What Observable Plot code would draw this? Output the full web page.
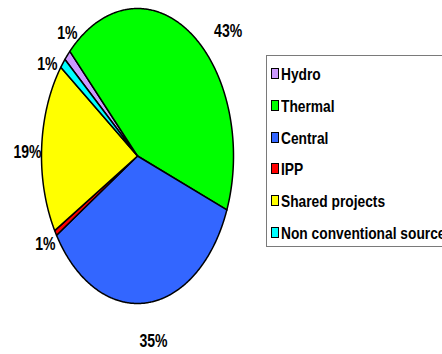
<!DOCTYPE html>
<html>
<head>
<meta charset="utf-8">
<script src="https://cdn.jsdelivr.net/npm/d3@7"></script>
<script src="https://cdn.jsdelivr.net/npm/@observablehq/plot@0.6"></script>
<style>
  html, body { margin: 0; padding: 0; background: #fff; width: 442px; height: 354px; overflow: hidden; }
  #wrap { position: relative; width: 442px; height: 354px; overflow: hidden; }
  #chart svg { display: block; }
  #legend { position: absolute; left: 266px; top: 55px; width: 220px; height: 192px;
            border: 1px solid #7a7a7a; box-sizing: border-box; background: #fff; }
  .item { position: absolute; left: 0; height: 20px; white-space: nowrap; }
  .sw { position: absolute; left: 4px; width: 6px; height: 9px; border: 1.5px solid #000; }
  .lab { position: absolute; left: 14px; font: bold 17px "Liberation Sans", Arial, sans-serif;
         color: #000; transform: scaleX(0.81); transform-origin: 0 50%; line-height: 20px; }
</style>
</head>
<body>
<div id="wrap"><div id="chart"></div><div id="legend"></div></div>
<script>
// ---- data ----
const categories = ["Hydro", "Thermal", "Central", "IPP", "Shared projects", "Non conventional sources"];
const shares = [1.2, 43.4, 35.0, 0.6, 18.7, 1.1];
const labels = shares.map(v => Math.round(v) + "%");

// ---- styles / layout ----
const colors = ["#CC99FF", "#00FF00", "#3366FF", "#FF0000", "#FFFF00", "#00FFFF"];
const startDeg = -49.1;
const labelRadius = [1.105, 1.27, 1.27, 1.13, 1.146, 1.125];
const labelShift = [5.6, 14.7, -2, -0.4, -2.1, -5.4];

const pie = d3.pie().sort(null).value(d => d.value)
  .startAngle(startDeg * Math.PI / 180).endAngle(startDeg * Math.PI / 180 + 2 * Math.PI);
const table = categories.map((c, i) => ({category: c, value: shares[i], label: labels[i]}));
const arcs = pie(table);

const poly = [];
arcs.forEach(a => {
  poly.push({category: a.data.category, x: 0, y: 0});
  const n = Math.max(2, Math.ceil((a.endAngle - a.startAngle) / (Math.PI / 360)));
  for (let k = 0; k <= n; k++) {
    const t = a.startAngle + (a.endAngle - a.startAngle) * k / n;
    poly.push({category: a.data.category, x: Math.sin(t), y: -Math.cos(t)});
  }
});
const labelPts = arcs.map((a, i) => {
  const m = (a.startAngle + a.endAngle) / 2 + labelShift[i] * Math.PI / 180;
  return {label: a.data.label, x: labelRadius[i] * Math.sin(m), y: -labelRadius[i] * Math.cos(m)};
});

const chart = Plot.plot({
  width: 442, height: 354,
  margin: 0,
  x: {domain: [-1, 1], range: [41, 233], axis: null},
  y: {domain: [-1, 1], range: [8, 303], axis: null},
  color: {domain: categories, range: colors},
  style: {background: "white"},
  marks: [
    Plot.line(poly, {x: "x", y: "y", z: "category", fill: "category", stroke: "#000",
                     strokeWidth: 1.5, curve: "linear-closed", strokeLinejoin: "round"}),
    Plot.text(labelPts, {x: "x", y: "y", text: "label", fill: "#000",
                         fontSize: 18, fontWeight: "bold", fontFamily: "Liberation Sans, Arial, sans-serif"})
  ]
});
document.getElementById("chart").appendChild(chart);

// horizontally condense the label glyphs
chart.querySelectorAll("text").forEach(t => {
  const tr = t.getAttribute("transform");
  if (tr) t.setAttribute("transform", tr + " scale(0.78,1)");
  else {
    const x = +t.getAttribute("x") || 0, y = +t.getAttribute("y") || 0;
    t.removeAttribute("x"); t.removeAttribute("y");
    t.setAttribute("transform", `translate(${x},${y}) scale(0.78,1)`);
  }
});

// legend from the chart's color scale
const color = chart.scale("color");
const legend = document.getElementById("legend");
categories.forEach((c, i) => {
  const item = document.createElement("div");
  item.className = "item";
  item.style.top = (73 + i * 31.8 - 55 - 10) + "px";
  const sw = document.createElement("div");
  sw.className = "sw";
  sw.style.top = "4px";
  sw.style.background = color.apply(c);
  const lab = document.createElement("div");
  lab.className = "lab";
  lab.style.top = "1px";
  lab.textContent = c;
  item.appendChild(sw); item.appendChild(lab);
  legend.appendChild(item);
});
</script>
</body>
</html>
